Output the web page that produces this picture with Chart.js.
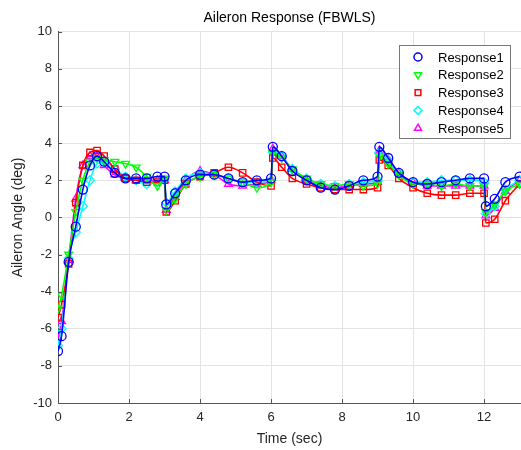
<!DOCTYPE html>
<html>
<head>
<meta charset="utf-8">
<script src="https://cdn.jsdelivr.net/npm/chart.js@4.4.1/dist/chart.umd.min.js"></script>
<style>
  html, body { margin: 0; padding: 0; background: #fff; overflow: hidden; }
  #wrap { position: relative; width: 521px; height: 450px; }
</style>
</head>
<body>
<div id="wrap"><canvas id="chart"></canvas></div>
<script>
// time samples (sec)
const time = [0, 0.1, 0.3, 0.5, 0.7, 0.9, 1.1, 1.3, 1.6, 1.9, 2.2, 2.5, 2.8, 3.0, 3.05, 3.3, 3.6, 4.0, 4.4, 4.8, 5.2, 5.6, 6.0, 6.05, 6.3, 6.6, 7.0, 7.4, 7.8, 8.2, 8.6, 9.0, 9.05, 9.3, 9.6, 10.0, 10.4, 10.8, 11.2, 11.6, 12.0, 12.05, 12.3, 12.6, 13.0];

// aileron angle (deg) for each response
const response1 = [-7.2, -6.4, -2.4, -0.5, 1.5, 2.8, 3.3, 3.0, 2.4, 2.1, 2.1, 2.1, 2.2, 2.2, 0.7, 1.3, 2.0, 2.3, 2.3, 2.1, 1.9, 2.0, 2.1, 3.8, 3.3, 2.5, 2.0, 1.6, 1.5, 1.7, 2.0, 2.2, 3.8, 3.2, 2.4, 1.9, 1.8, 1.9, 2.0, 2.1, 2.1, 0.6, 1.0, 1.9, 2.2];
const response2 = [-4.9, -4.2, -2.0, 0.3, 2.0, 3.0, 3.2, 3.1, 3.0, 2.9, 2.7, 2.2, 1.7, 2.1, 0.4, 1.0, 1.8, 2.2, 2.3, 2.1, 1.9, 1.6, 1.9, 3.5, 3.2, 2.6, 2.1, 1.8, 1.7, 1.8, 1.7, 1.8, 3.3, 2.9, 2.3, 1.8, 1.8, 1.7, 1.8, 1.7, 1.7, 0.3, 0.7, 1.4, 1.8];
const response3 = [-5.4, -4.7, -2.5, 0.8, 2.8, 3.5, 3.6, 3.3, 2.6, 2.1, 2.0, 1.9, 1.9, 2.0, 0.3, 0.9, 1.8, 2.2, 2.4, 2.7, 2.4, 1.9, 1.7, 3.2, 2.7, 2.1, 1.8, 1.6, 1.5, 1.5, 1.5, 1.6, 3.1, 2.8, 2.1, 1.6, 1.3, 1.2, 1.2, 1.3, 1.3, -0.3, -0.1, 0.9, 1.8];
const response4 = [-6.9, -6.0, -2.2, -0.8, 0.6, 2.0, 2.9, 3.0, 2.6, 2.2, 2.0, 1.8, 1.9, 2.0, 0.8, 1.4, 2.1, 2.4, 2.3, 2.1, 1.9, 1.9, 2.0, 3.5, 3.3, 2.6, 2.1, 1.8, 1.7, 1.8, 1.9, 2.0, 3.5, 3.1, 2.4, 1.9, 1.9, 2.0, 2.0, 2.0, 1.9, 0.2, 0.6, 1.5, 2.0];
const response5 = [-6.5, -5.6, -2.3, 1.0, 2.8, 3.3, 3.3, 2.8, 2.3, 2.1, 2.0, 2.0, 2.0, 2.0, 0.4, 1.1, 2.0, 2.5, 2.3, 1.8, 1.7, 1.8, 2.0, 3.7, 3.3, 2.6, 2.0, 1.7, 1.6, 1.7, 1.8, 1.9, 3.6, 3.1, 2.4, 1.9, 1.7, 1.7, 1.7, 1.7, 1.7, 0.1, 0.5, 1.4, 2.0];

const seriesLabels = ['Response1', 'Response2', 'Response3', 'Response4', 'Response5'];
const xTicks = [0, 2, 4, 6, 8, 10, 12];
const yTicks = [-10, -8, -6, -4, -2, 0, 2, 4, 6, 8, 10];

const FONT = '"Liberation Sans", Arial, Helvetica, sans-serif';
const TEXT = '#262626';

const styles = [
  { color: '#0000ff', pointStyle: 'circle', rotation: 0 },
  { color: '#00ff00', pointStyle: 'triangle', rotation: 180 },
  { color: '#ff0000', pointStyle: 'rect', rotation: 0 },
  { color: '#00ffff', pointStyle: 'rectRot', rotation: 0 },
  { color: '#ff00ff', pointStyle: 'triangle', rotation: 0 }
];

const allSeries = [response1, response2, response3, response4, response5];

const datasets = allSeries.map((vals, i) => ({
  label: seriesLabels[i],
  data: time.map((t, k) => ({ x: t, y: vals[k] })),
  borderColor: styles[i].color,
  backgroundColor: 'rgba(0,0,0,0)',
  borderWidth: 1.6,
  pointStyle: styles[i].pointStyle,
  pointRotation: styles[i].rotation,
  pointRadius: 4.5,
  pointBorderWidth: 1.3,
  pointBorderColor: styles[i].color,
  pointBackgroundColor: 'rgba(0,0,0,0)',
  cubicInterpolationMode: 'monotone',
  fill: false
}));

// inward tick marks, like the original axes
const inwardTicks = {
  id: 'inwardTicks',
  afterDraw(chart) {
    const { ctx, chartArea: a, scales } = chart;
    ctx.save();
    ctx.strokeStyle = '#555';
    ctx.lineWidth = 1;
    ctx.beginPath();
    yTicks.forEach(v => {
      const y = Math.round(scales.y.getPixelForValue(v)) + 0.5;
      ctx.moveTo(a.left, y);
      ctx.lineTo(a.left + 4, y);
    });
    xTicks.forEach(v => {
      const x = Math.round(scales.x.getPixelForValue(v)) + 0.5;
      ctx.moveTo(x, a.bottom);
      ctx.lineTo(x, a.bottom - 4);
    });
    ctx.stroke();
    ctx.restore();
  }
};

// boxed legend in the upper right of the axes
const boxLegend = {
  id: 'boxLegend',
  afterDraw(chart) {
    const ctx = chart.ctx;
    const left = 399, top = 45, w = 111, h = 93;
    ctx.save();
    ctx.fillStyle = '#fff';
    ctx.fillRect(left, top, w, h);
    ctx.strokeStyle = '#777';
    ctx.lineWidth = 1;
    ctx.strokeRect(left + 0.5, top + 0.5, w, h);
    ctx.font = '13px ' + FONT;
    ctx.textBaseline = 'middle';
    chart.data.datasets.forEach((ds, i) => {
      const y = top + 12 + i * 17.8;
      ctx.strokeStyle = ds.borderColor;
      ctx.fillStyle = 'rgba(0,0,0,0)';
      ctx.lineWidth = 1.5;
      Chart.helpers.drawPoint(ctx, {
        pointStyle: ds.pointStyle,
        rotation: ds.pointRotation,
        radius: 4,
        borderWidth: 1.5
      }, left + 19, y);
      ctx.fillStyle = '#000';
      ctx.fillText(ds.label, left + 39, y + 1);
    });
    ctx.restore();
  }
};

new Chart(document.getElementById('chart'), {
  type: 'line',
  data: { datasets },
  plugins: [inwardTicks, boxLegend],
  options: {
    responsive: true,
    maintainAspectRatio: false,
    animation: false,
    layout: { autoPadding: false, padding: { left: 0, right: 0, top: 0, bottom: 0 } },
    plugins: {
      legend: { display: false },
      tooltip: { enabled: false },
      title: {
        display: true,
        text: 'Aileron Response (FBWLS)',
        fullSize: false,
        color: '#000',
        font: { family: FONT, size: 14, weight: 'normal' },
        padding: { top: 10, bottom: 5 }
      }
    },
    scales: {
      x: {
        type: 'linear',
        min: 0,
        max: 13.04,
        afterFit: s => { s.height = 47; },
        afterBuildTicks: s => { s.ticks = xTicks.map(v => ({ value: v })); },
        grid: { color: '#e3e3e3', drawTicks: false },
        border: { color: '#555', width: 1 },
        ticks: { color: TEXT, padding: 7, maxRotation: 0, font: { family: FONT, size: 13 } },
        title: {
          display: true,
          text: 'Time (sec)',
          color: TEXT,
          font: { family: FONT, size: 14 },
          padding: { top: 4, bottom: 2 }
        }
      },
      y: {
        type: 'linear',
        min: -10,
        max: 10,
        afterFit: s => { s.width = 58; },
        afterBuildTicks: s => { s.ticks = yTicks.map(v => ({ value: v })); },
        grid: { color: '#e3e3e3', drawTicks: false },
        border: { color: '#555', width: 1 },
        ticks: { color: TEXT, padding: 6, font: { family: FONT, size: 13 } },
        title: {
          display: true,
          text: 'Aileron Angle (deg)',
          color: TEXT,
          font: { family: FONT, size: 14 },
          padding: { top: 10, bottom: 0 }
        }
      }
    }
  }
});
</script>
</body>
</html>
